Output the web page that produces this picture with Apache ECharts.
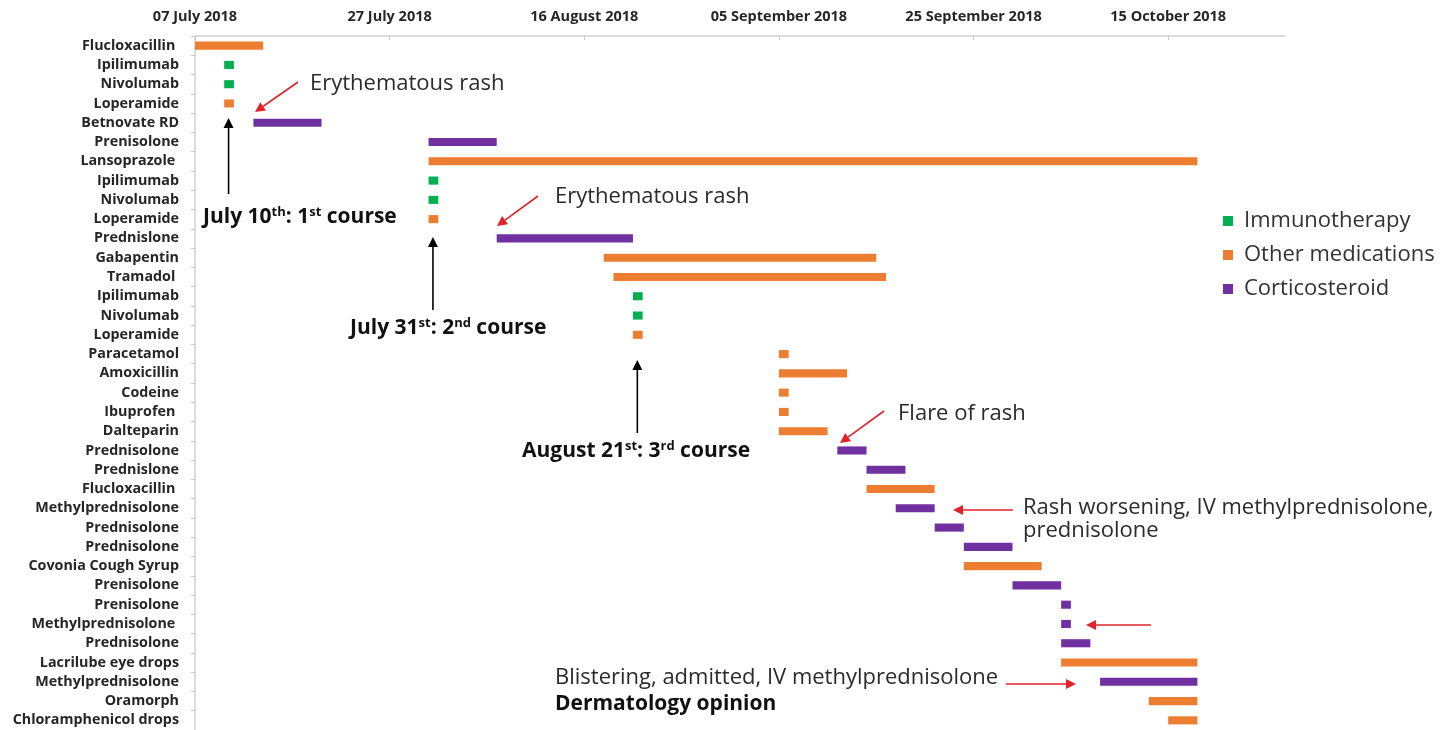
<!DOCTYPE html>
<html>
<head>
<meta charset="utf-8">
<script src="https://cdn.jsdelivr.net/npm/echarts@6/dist/echarts.min.js"></script>
<style>html,body{margin:0;padding:0;background:#fff;}#c{width:1454px;height:730px;}</style>
</head>
<body>
<div id="c"></div>
<script>
// ---- data ----
const categories = ['Flucloxacillin ','Ipilimumab','Nivolumab','Loperamide','Betnovate RD','Prenisolone','Lansoprazole ','Ipilimumab','Nivolumab','Loperamide','Prednislone','Gabapentin','Tramadol ','Ipilimumab','Nivolumab','Loperamide','Paracetamol','Amoxicillin','Codeine','Ibuprofen ','Dalteparin','Prednisolone','Prednislone','Flucloxacillin ','Methylprednisolone','Prednisolone','Prednisolone','Covonia Cough Syrup','Prenisolone','Prenisolone','Methylprednisolone ','Prednisolone','Lacrilube eye drops','Methylprednisolone','Oramorph','Chloramphenicol drops'];
const startDates = ['2018-07-07','2018-07-10','2018-07-10','2018-07-10','2018-07-13','2018-07-31','2018-07-31','2018-07-31','2018-07-31','2018-07-31','2018-08-07','2018-08-18','2018-08-19','2018-08-21','2018-08-21','2018-08-21','2018-09-05','2018-09-05','2018-09-05','2018-09-05','2018-09-05','2018-09-11','2018-09-14','2018-09-14','2018-09-17','2018-09-21','2018-09-24','2018-09-24','2018-09-29','2018-10-04','2018-10-04','2018-10-04','2018-10-04','2018-10-08','2018-10-13','2018-10-15'];
const endDates = ['2018-07-14','2018-07-11','2018-07-11','2018-07-11','2018-07-20','2018-08-07','2018-10-18','2018-08-01','2018-08-01','2018-08-01','2018-08-21','2018-09-15','2018-09-16','2018-08-22','2018-08-22','2018-08-22','2018-09-06','2018-09-12','2018-09-06','2018-09-06','2018-09-10','2018-09-14','2018-09-18','2018-09-21','2018-09-21','2018-09-24','2018-09-29','2018-10-02','2018-10-04','2018-10-05','2018-10-05','2018-10-07','2018-10-18','2018-10-18','2018-10-18','2018-10-18'];
const groups = ['O','I','I','O','C','C','O','I','I','O','C','O','O','I','I','O','O','O','O','O','O','C','C','O','C','C','C','O','C','C','C','C','O','C','O','O'];
const groupNames = {I:'Immunotherapy', O:'Other medications', C:'Corticosteroid'};
const tickLabels = ['07 July 2018','27 July 2018','16 August 2018','05 September 2018','25 September 2018','15 October 2018'];
const axisStart = '2018-07-07';
const axisEnd = '2018-10-27';
const tickStepDays = 20;
const courseDates = ['2018-07-10','2018-07-31','2018-08-21'];

// ---- helpers ----
const DAY = 86400000;
const dayOf = s => (Date.parse(s) - Date.parse(axisStart)) / DAY;
const colors = {I:'#00B050', O:'#ED7D31', C:'#7030A0'};
const BFONT = 'Open Sans';

function renderItem(params, api) {
  const y = api.value(0);
  const s = api.coord([api.value(1), y]);
  const e = api.coord([api.value(2), y]);
  const h = api.size([0, 1])[1] * 0.42;
  return {type: 'rect', shape: {x: s[0], y: s[1] - h / 2, width: e[0] - s[0], height: h}, style: {fill: api.visual('color')}};
}
const series = ['I','O','C'].map(g => ({
  type: 'custom', name: groupNames[g], renderItem,
  itemStyle: {color: colors[g]},
  encode: {x: [1, 2], y: 0},
  data: categories.map((c, i) => groups[i] === g ? [i, dayOf(startDates[i]), dayOf(endDates[i])] : null).filter(Boolean)
}));

const chart = echarts.init(document.getElementById('c'), null, {renderer: 'canvas'});
chart.setOption({
  animation: false,
  grid: {left: 195, right: 169, top: 36, bottom: 0, containLabel: false},
  xAxis: {
    type: 'value', position: 'top', min: 0, max: dayOf(axisEnd), interval: tickStepDays,
    axisLine: {show: true, lineStyle: {color: '#d0d0d0', width: 1.5}},
    axisTick: {show: true, inside: true, length: 4, lineStyle: {color: '#c8c8c8'}},
    splitLine: {show: false},
    axisLabel: {showMaxLabel: false, margin: 12, color: '#262626', fontFamily: BFONT, fontWeight: 'bold', fontSize: 14.5,
      formatter: v => tickLabels[Math.round(v / tickStepDays)] || ''}
  },
  yAxis: {
    type: 'category', inverse: true, data: categories,
    axisLine: {show: true, lineStyle: {color: '#d0d0d0', width: 1.5}},
    axisTick: {show: true, length: 4, lineStyle: {color: '#c8c8c8'}},
    axisLabel: {margin: 16, color: '#262626', fontFamily: BFONT, fontWeight: 'bold', fontSize: 14.3, interval: 0}
  },
  legend: {
    orient: 'vertical', left: 1218, top: 205, icon: 'rect', itemWidth: 10, itemHeight: 10, itemGap: 12,
    data: ['Immunotherapy','Other medications','Corticosteroid'],
    textStyle: {fontFamily: 'Open Sans', fontSize: 22, color: '#333', padding: [0, 0, 0, 6]}
  },
  series
});

// ---- annotations ----
const red = '#E0232B';
function arrow(x1, y1, x2, y2, color, w, head) {
  const a = Math.atan2(y2 - y1, x2 - x1);
  const L = head || 9, W = (head || 9) * 0.5;
  const bx = x2 - L * Math.cos(a), by = y2 - L * Math.sin(a);
  const px = -Math.sin(a) * W, py = Math.cos(a) * W;
  return [
    {type: 'line', shape: {x1, y1, x2: bx, y2: by}, style: {stroke: color, lineWidth: w}},
    {type: 'polygon', shape: {points: [[x2, y2], [bx + px, by + py], [bx - px, by - py]]}, style: {fill: color}}
  ];
}
function txt(x, y, text, size, bold, rich) {
  return {type: 'text', x, y, style: {text, fill: bold ? '#111' : '#2b2b2b', font: (bold ? 'bold ' : '') + size + 'px Open Sans', textVerticalAlign: 'middle', rich}};
}
const supRich = {
  b: {fontFamily: BFONT, fontWeight: 'bold', fontSize: 21, color: '#111'},
  s: {fontFamily: BFONT, fontWeight: 'bold', fontSize: 13, color: '#111', verticalAlign: 'top', padding: [0, 0, 9, 0]}
};
const g = [];
const cx = courseDates.map(d => chart.convertToPixel({xAxisIndex: 0}, dayOf(d) + 0.45));
g.push(...arrow(298, 82, 255, 112, red, 1.6, 10));
g.push(txt(310, 84, 'Erythematous rash', 22));
g.push(...arrow(cx[0], 194, cx[0], 118, '#000', 1.6, 10));
g.push(txt(203, 217, '{b|July 10}{s|th}{b|: 1}{s|st}{b| course}', 21, true, supRich));
g.push(...arrow(538, 196, 497, 226, red, 1.6, 10));
g.push(txt(555, 197, 'Erythematous rash', 22));
g.push(...arrow(cx[1], 310, cx[1], 237, '#000', 1.6, 10));
g.push(txt(350, 328, '{b|July 31}{s|st}{b|: 2}{s|nd}{b| course}', 21, true, supRich));
g.push(...arrow(cx[2], 433, cx[2], 360, '#000', 1.6, 10));
g.push(txt(522, 451, '{b|August 21}{s|st}{b|: 3}{s|rd}{b| course}', 21, true, supRich));
g.push(...arrow(884, 411, 840, 443, red, 1.6, 10));
g.push(txt(898, 414, 'Flare of rash', 22));
g.push(...arrow(1013, 510, 953, 510, red, 1.6, 10));
g.push(txt(1023, 508, 'Rash worsening, IV methylprednisolone,', 22));
g.push(txt(1023, 531, 'prednisolone', 22));
g.push(...arrow(1151, 625, 1086, 625, red, 1.6, 10));
g.push(txt(555, 678, 'Blistering, admitted, IV methylprednisolone', 22));
g.push(...arrow(1006, 684, 1076, 684, red, 1.6, 10));
g.push(txt(555, 704, 'Dermatology opinion', 21, true));
chart.setOption({graphic: {elements: g}});
</script>
</body>
</html>
